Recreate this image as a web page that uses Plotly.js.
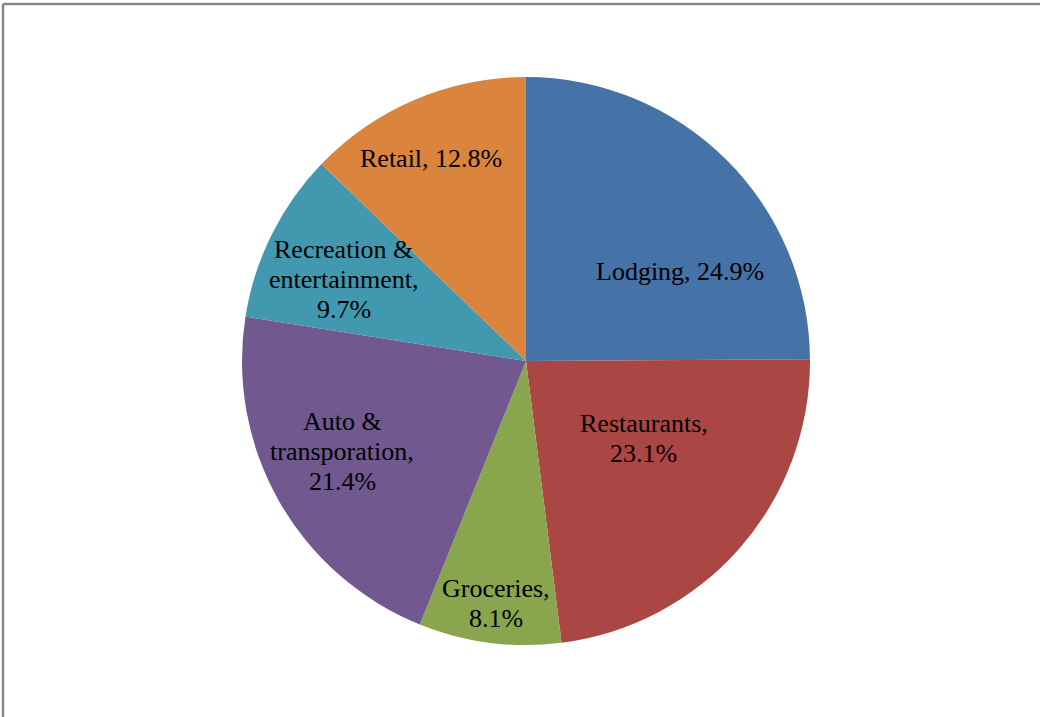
<!DOCTYPE html>
<html>
<head>
<meta charset="utf-8">
<script src="https://cdn.plot.ly/plotly-3.0.1.min.js"></script>
<style>
html,body{margin:0;padding:0;background:#fff;}
#chart{width:1040px;height:717px;}
</style>
</head>
<body>
<div id="chart"></div>
<script>
// ---- data ----
var categories = ["Lodging", "Restaurants", "Groceries", "Auto & transporation", "Recreation & entertainment", "Retail"];
var values = [24.9, 23.1, 8.1, 21.4, 9.7, 12.8];
var labelTexts = ["Lodging, ", "Restaurants,<br>", "Groceries,<br>", "Auto &<br>transporation,<br>", "Recreation &<br>entertainment,<br>", "Retail, "];

// ---- styles / label placement (relative to each slice's mid-angle) ----
var colors = ["#4572A7", "#AA4643", "#89A54E", "#71588F", "#4198AF", "#DB843D"];
var labelAngleOffset = [15.0, -7.9, -0.3, 3.4, -2.4, -2.1];
var labelRadius = [0.627, 0.497, 0.86, 0.721, 0.702, 0.788];
var fontFamily = "Liberation Serif, Times New Roman, serif";
var fontSize = 26;
var lineGap = 30;

var trace = {
  type: "pie",
  labels: categories,
  values: values,
  textinfo: "none",
  marker: {colors: colors, line: {width: 0}},
  sort: false,
  direction: "clockwise",
  rotation: 0,
  hoverinfo: "none",
  showlegend: false
};

var total = values.reduce(function (a, b) { return a + b; }, 0);
var annotations = [];
var cum = 0;
for (var i = 0; i < values.length; i++) {
  var mid = (cum + values[i] / 2) / total * 360;
  cum += values[i];
  var th = (mid + labelAngleOffset[i]) * Math.PI / 180;
  var ax = 0.5 + labelRadius[i] * 0.5 * Math.sin(th);
  var ay = 0.5 + labelRadius[i] * 0.5 * Math.cos(th);
  var pct = (values[i] / total * 100).toFixed(1) + "%";
  var lines = (labelTexts[i] + pct).split("<br>");
  for (var k = 0; k < lines.length; k++) {
    annotations.push({
      xref: "paper", yref: "paper", x: ax, y: ay,
      xanchor: "center", yanchor: "middle",
      yshift: -(k - (lines.length - 1) / 2) * lineGap,
      text: lines[k], showarrow: false,
      font: {family: fontFamily, size: fontSize, color: "#000"}
    });
  }
}

var layout = {
  width: 1040,
  height: 717,
  margin: {l: 242, r: 230, t: 77, b: 72},
  paper_bgcolor: "#fff",
  showlegend: false,
  annotations: annotations,
  shapes: [
    {type: "line", xref: "paper", yref: "paper", x0: -0.4208, x1: 1.5, y0: 1.1285, y1: 1.1285, line: {color: "#868686", width: 2.5}},
    {type: "line", xref: "paper", yref: "paper", x0: -0.4208, x1: -0.4208, y0: 1.1285, y1: -0.3, line: {color: "#868686", width: 2.5}}
  ]
};

Plotly.newPlot("chart", [trace], layout, {staticPlot: true, displayModeBar: false});
</script>
</body>
</html>
